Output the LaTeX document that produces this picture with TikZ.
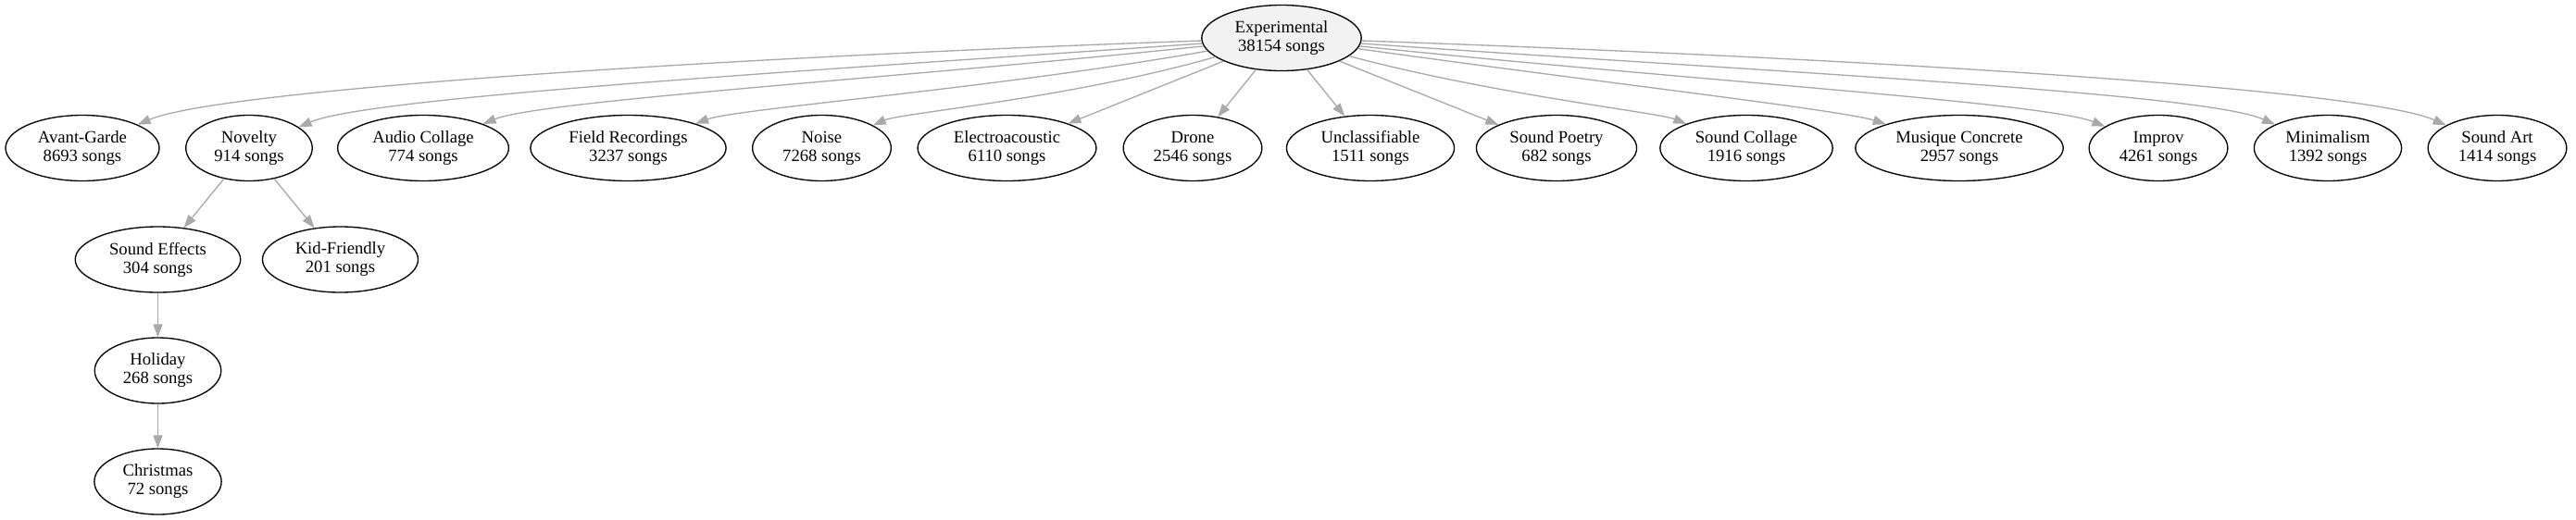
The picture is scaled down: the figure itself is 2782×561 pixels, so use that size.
\documentclass[tikz,border=0pt]{standalone}
\usepackage{fontspec}
\setmainfont{Liberation Serif}
\usepackage{tikz}
\usetikzlibrary{shapes.geometric, arrows.meta}
\definecolor{edgegray}{HTML}{A9A9A9}
\definecolor{rootfill}{HTML}{F2F2F2}
\tikzstyle{genre} = [ellipse, 
minimum height=53.25bp,
inner xsep=8bp,
align=center, 
draw=black,
line width=1bp,
font=\fontsize{14bp}{15bp}\selectfont]
\tikzstyle{root} = [genre, fill=rootfill]
\tikzstyle{arrow} = [draw=edgegray, line width=1bp, -{Triangle[length=10.5bp, width=7.5bp]}]
\tikzstyle{fan} = [out looseness=1.1, in looseness=0.22]

\begin{document}
\begin{tikzpicture}[x=0.75bp, y=-0.75bp, node distance=90bp]
\useasboundingbox (0,0) rectangle (2782,561);

\node (exp) [root] at (1384,41) {Experimental\\38154 songs};

\node (avant) [genre] at (89,160) {Avant-Garde\\8693 songs};
\node (novelty) [genre] at (269,160) {Novelty\\914 songs};
\node (collage) [genre] at (457,160) {Audio Collage\\774 songs};
\node (field) [genre] at (678.5,160) {Field Recordings\\3237 songs};
\node (noise) [genre] at (887.5,160) {Noise\\7268 songs};
\node (electro) [genre] at (1087.5,160) {Electroacoustic\\6110 songs};
\node (drone) [genre] at (1288,160) {Drone\\2546 songs};
\node (unclass) [genre] at (1480,160) {Unclassifiable\\1511 songs};
\node (poetry) [genre] at (1681,160) {Sound Poetry\\682 songs};
\node (scollage) [genre] at (1886,160) {Sound Collage\\1916 songs};
\node (musique) [genre] at (2116,160) {Musique Concrete\\2957 songs};
\node (improv) [genre] at (2331,160) {Improv\\4261 songs};
\node (minimal) [genre] at (2514,160) {Minimalism\\1392 songs};
\node (art) [genre] at (2697,160) {Sound Art\\1414 songs};

\node (sfx) [genre] at (170.5,280.5) {Sound Effects\\304 songs};
\node (kids) [genre] at (367.5,280.5) {Kid-Friendly\\201 songs};
\node (holiday) [genre, below of=sfx] {Holiday\\268 songs};
\node (xmas) [genre, below of=holiday] {Christmas\\72 songs};

\draw [arrow] (exp) to[fan, out=182, in=23] (avant);
\draw [arrow] (exp) to[fan, out=184, in=23] (novelty);
\draw [arrow] (exp) to[fan, out=186, in=22] (collage);
\draw [arrow] (exp) to[fan, out=190, in=20] (field);
\draw [arrow] (exp) to[fan, out=196, in=24] (noise);
\draw [arrow] (exp) -- (electro);
\draw [arrow] (exp) -- (drone);
\draw [arrow] (exp) -- (unclass);
\draw [arrow] (exp) -- (poetry);
\draw [arrow] (exp) to[fan, out=345, in=158] (scollage);
\draw [arrow] (exp) to[fan, out=352, in=162] (musique);
\draw [arrow] (exp) to[fan, out=354, in=158] (improv);
\draw [arrow] (exp) to[fan, out=356, in=156] (minimal);
\draw [arrow] (exp) to[fan, out=358, in=156] (art);
\draw [arrow] (novelty) -- (sfx);
\draw [arrow] (novelty) -- (kids);
\draw [arrow] (sfx) -- (holiday);
\draw [arrow] (holiday) -- (xmas);

\end{tikzpicture}
\end{document}
